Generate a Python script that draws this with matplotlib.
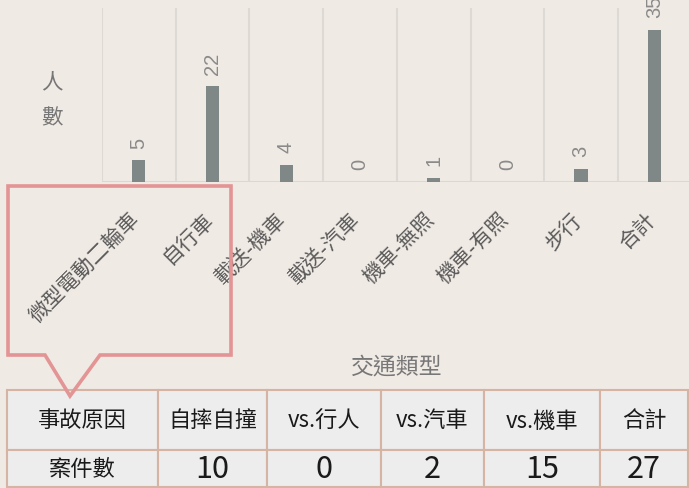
import matplotlib as mpl
mpl.use('Agg')
import matplotlib.pyplot as plt
from matplotlib.patches import Polygon, Rectangle

plt.rcParams['font.family'] = ['Noto Sans CJK TC', 'DejaVu Sans']

# bar chart data
categories = ['微型電動二輪車', '自行車', '載送-機車', '載送-汽車',
              '機車-無照', '機車-有照', '步行', '合計']
counts = [5, 22, 4, 0, 1, 0, 3, 35]

# table data
table_header = ['事故原因', '自摔自撞', 'vs.行人', 'vs.汽車', 'vs.機車', '合計']
table_row = ['案件數', '10', '0', '2', '15', '27']

bg = '#F0EAE4'
bar_color = '#7F8886'
W, H = 689, 489


def fx(x):
    return x / W


def fy(y):
    return 1 - y / H


fig = plt.figure(figsize=(W / 100, H / 100), dpi=100, facecolor=bg)

# axes: left edge 102px, baseline 183px, top 9px, 8 slots of ~73.7px
slot = 73.7
ax = fig.add_axes([fx(102), fy(183), 8 * slot / W, (183 - 9) / H])
ax.set_facecolor(bg)
ax.set_xlim(-0.5, len(categories) - 0.5)
ax.set_ylim(0, 40)
for s in ax.spines.values():
    s.set_visible(False)
ax.set_yticks([])
ax.set_xticks([])

ax.vlines([i - 0.5 for i in range(len(categories) + 1)], 0, 40,
          color='#DDDAD6', lw=1.5, zorder=0)
ax.axhline(0, color='#D9D8D6', lw=2.2, zorder=1)
ax.bar(range(len(categories)), counts, width=0.18, color=bar_color, zorder=2)

for i, v in enumerate(counts):
    ax.annotate(str(v), (i, v), xytext=(0, 9), textcoords='offset points',
                rotation=90, ha='center', va='bottom', fontsize=14.5,
                color='#8A8A8A', family='Liberation Sans', annotation_clip=False)

for i, name in enumerate(categories):
    ax.annotate(name, (i, 0), xycoords=('data', 'axes fraction'),
                xytext=(-2, -24), textcoords='offset points',
                rotation=45, ha='right', va='center', rotation_mode='anchor',
                fontsize=15, fontweight='light', color='#5A5A5A',
                annotation_clip=False)

fig.text(fx(52), fy(82), '人', ha='center', va='center', fontsize=15.5,
         fontweight='light', color='#777777')
fig.text(fx(52), fy(118), '數', ha='center', va='center', fontsize=15.5,
         fontweight='light', color='#777777')
fig.text(fx(397), fy(367), '交通類型', ha='center', va='center', fontsize=16.5,
         fontweight='light', color='#777777')

# table
col_x = [7, 158, 267, 381, 484, 600, 688]
row_y = [391, 451, 488]
for r, row in enumerate([table_header, table_row]):
    for c, txt in enumerate(row):
        x0, x1 = col_x[c], col_x[c + 1]
        y0, y1 = row_y[r], row_y[r + 1]
        fig.patches.append(Rectangle((fx(x0), fy(y1)), fx(x1 - x0), (y1 - y0) / H,
                                     transform=fig.transFigure, facecolor='#EDEDED',
                                     edgecolor='#D5B4A4', lw=1.5, zorder=1))
        size = 16 if (r == 0 or c == 0) else 22
        fig.text(fx((x0 + x1) / 2), fy((y0 + y1) / 2), txt, ha='center', va='center',
                 fontsize=size, color='#1A1A1A', zorder=2)

# callout
pts = [(8, 187), (231, 187), (231, 356), (100, 356), (70, 397), (45, 356), (8, 356)]
fig.patches.append(Polygon([(fx(x), fy(y)) for x, y in pts], closed=True,
                           transform=fig.transFigure, fill=False,
                           edgecolor='#E39494', lw=2.6, joinstyle='miter', zorder=5))

fig.savefig('out.png', dpi=100, facecolor=bg)
